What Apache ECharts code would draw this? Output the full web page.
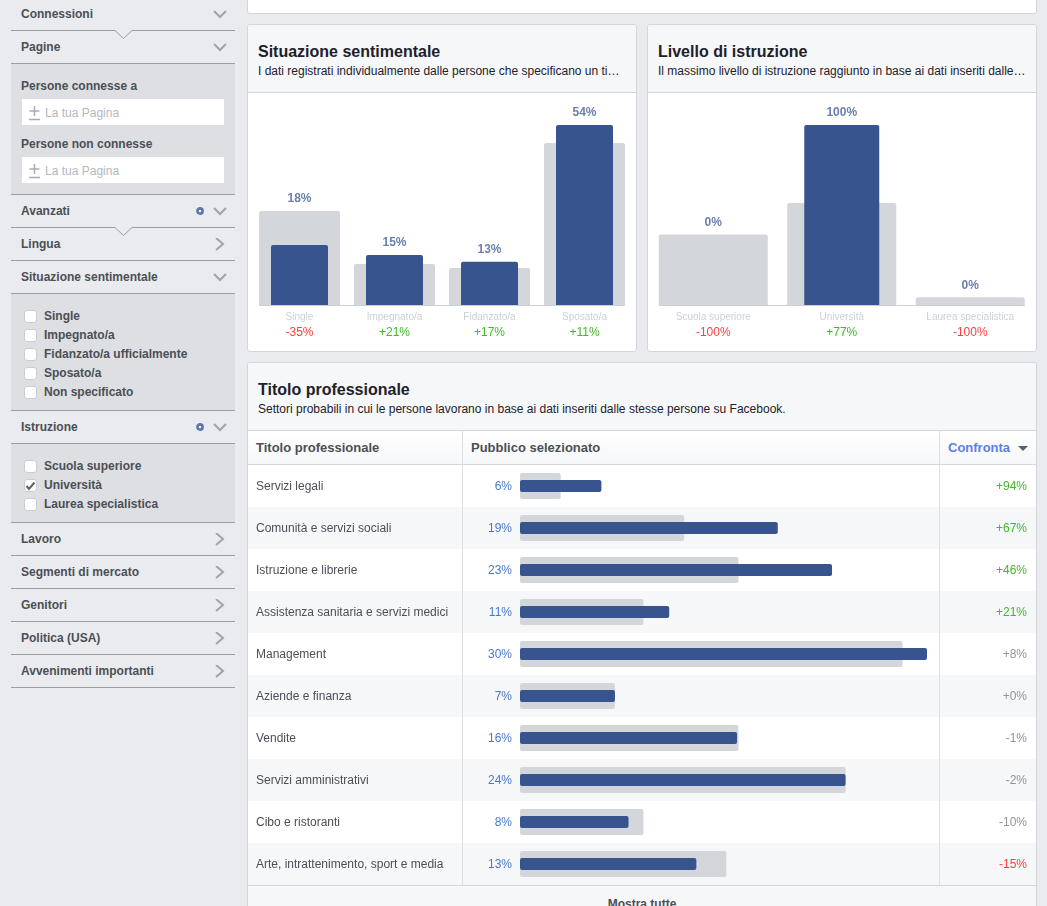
<!DOCTYPE html>
<html>
<head>
<meta charset="utf-8">
<script src="https://cdn.jsdelivr.net/npm/echarts@6/dist/echarts.min.js"></script>
<style>
  html, body { margin: 0; padding: 0; width: 1047px; height: 906px; overflow: hidden; background: #e9ebee; font-family: "Liberation Sans", Arial, sans-serif; }
  .abs, .card, .line, .panel, .sb, .row, .vline { position: absolute; }
  .card { background: #fff; border: 1px solid #d3d6db; border-radius: 3px; box-sizing: border-box; }
  .head { position: absolute; left: 0; right: 0; top: 0; background: #f6f7f9; border-bottom: 1px solid #d3d6db; border-radius: 3px 3px 0 0; box-sizing: border-box; }
  .head b { position: absolute; left: 10px; top: 18px; font-size: 16px; color: #1d2129; white-space: nowrap; }
  .head span { position: absolute; left: 10px; top: 39px; font-size: 12px; color: #1d2129; white-space: nowrap; }
  .chart { position: absolute; }
  .line { left: 11px; width: 224px; height: 1px; background: #9a9da2; }
  .panel { left: 11px; width: 224px; background: #dddfe2; }
  .sb { font-size: 12px; font-weight: bold; color: #4b4f56; white-space: nowrap; }
  .input { position: absolute; left: 22px; width: 202px; height: 26px; background: #fff; font-size: 12px; color: #b5b8bd; line-height: 28px; padding-left: 23px; box-sizing: border-box; }
  .input svg { position: absolute; left: 7px; top: 7px; }
  .check { position: absolute; left: 24px; width: 11px; height: 11px; background: #fff; border: 1px solid #c9ccd1; border-radius: 3px; }
  .icon { position: absolute; }
  .row { left: 0; right: 0; height: 42px; }
  .th { position: absolute; font-size: 13px; font-weight: bold; color: #4b4f56; white-space: nowrap; top: 9px; }
</style>
</head>
<body>
<div id="sidebar"></div>

<div class="card" style="left:247px;top:-10px;width:790px;height:24px"></div>

<div class="card" style="left:247px;top:24px;width:390px;height:328px">
  <div class="head" style="height:68px"><b>Situazione sentimentale</b><span>I dati registrati individualmente dalle persone che specificano un ti…</span></div>
</div>
<div class="chart" id="relChart" style="left:248px;top:93px;width:388px;height:258px"></div>

<div class="card" style="left:647px;top:24px;width:390px;height:328px">
  <div class="head" style="height:68px"><b>Livello di istruzione</b><span>Il massimo livello di istruzione raggiunto in base ai dati inseriti dalle…</span></div>
</div>
<div class="chart" id="eduChart" style="left:648px;top:93px;width:388px;height:258px"></div>

<div class="card" style="left:247px;top:362px;width:790px;height:560px;overflow:hidden">
  <div class="head" style="height:68px"><b>Titolo professionale</b><span>Settori probabili in cui le persone lavorano in base ai dati inseriti dalle stesse persone su Facebook.</span></div>
  <div style="position:absolute;left:0;right:0;top:68px;height:33px;background:linear-gradient(#fff,#f6f7f9);border-bottom:1px solid #d3d6db">
    <div class="th" style="left:8px">Titolo professionale</div>
    <div class="th" style="left:223px">Pubblico selezionato</div>
    <div class="th" style="left:700px;color:#5b7fe8">Confronta</div>
    <svg style="position:absolute;left:770px;top:15px" width="11" height="6"><path d="M0 0H10L5 5Z" fill="#5d6066"/></svg>
  </div>
  <div id="rows"></div>
  <div class="vline" style="left:214px;top:68px;width:1px;height:454px;background:#dddfe2"></div>
  <div class="vline" style="left:691px;top:68px;width:1px;height:454px;background:#dddfe2"></div>
  <div style="position:absolute;left:0;right:0;top:522px;height:40px;background:#f6f7f9;border-top:1px solid #d3d6db;text-align:center;font-size:12px;font-weight:bold;color:#4b4f56;line-height:36px">Mostra tutte</div>
</div>
<div class="chart" id="jobChart" style="left:248px;top:465px;width:788px;height:420px"></div>

<script>
// Situazione sentimentale
const relCats = ['Single', 'Impegnato/a', 'Fidanzato/a', 'Sposato/a'];
const relSelected = [18, 15, 13, 54];
const relBaseline = [28.2, 12.3, 11.1, 48.6];
const relDelta = ['-35%', '+21%', '+17%', '+11%'];

// Livello di istruzione
const eduCats = ['Scuola superiore', 'Università', 'Laurea specialistica'];
const eduSelected = [0, 100, 0];
const eduBaseline = [39.2, 56.7, 4.3];
const eduDelta = ['-100%', '+77%', '-100%'];

// Titolo professionale
const jobCats = ['Servizi legali', 'Comunità e servizi sociali', 'Istruzione e librerie', 'Assistenza sanitaria e servizi medici', 'Management', 'Aziende e finanza', 'Vendite', 'Servizi amministrativi', 'Cibo e ristoranti', 'Arte, intrattenimento, sport e media'];
const jobSelected = [6, 19, 23, 11, 30, 7, 16, 24, 8, 13];
const jobBaseline = [3, 12.1, 16.1, 9.1, 28.2, 7, 16.1, 24, 9.1, 15.2];
const jobDelta = ['+94%', '+67%', '+46%', '+21%', '+8%', '+0%', '-1%', '-2%', '-10%', '-15%'];

// Sidebar
const sideRows = [
  { name: 'Connessioni', y: 14, arrow: 'down' },
  { name: 'Pagine', y: 47, arrow: 'down' },
  { name: 'Avanzati', y: 211, arrow: 'down', dot: true },
  { name: 'Lingua', y: 244, arrow: 'right' },
  { name: 'Situazione sentimentale', y: 277, arrow: 'down' },
  { name: 'Istruzione', y: 427, arrow: 'down', dot: true },
  { name: 'Lavoro', y: 539, arrow: 'right' },
  { name: 'Segmenti di mercato', y: 572, arrow: 'right' },
  { name: 'Genitori', y: 605, arrow: 'right' },
  { name: 'Politica (USA)', y: 638, arrow: 'right' },
  { name: 'Avvenimenti importanti', y: 671, arrow: 'right' }
];
const sideLines = [63, 194, 260, 293, 410, 443, 522, 555, 588, 621, 654, 687];
const notchLines = [30, 227];
const relChecks = ['Single', 'Impegnato/a', 'Fidanzato/a ufficialmente', 'Sposato/a', 'Non specificato'];
const eduChecks = ['Scuola superiore', 'Università', 'Laurea specialistica'];

const BLUE = '#37548e';
const GREY = '#d3d6db';
const GREEN = '#42b72a';
const RED = '#fa3e3e';
const MUTED = '#90949c';

function deltaColor(d) {
  const n = parseInt(d, 10);
  if (n <= -15) return RED;
  if (n >= 11) return GREEN;
  return MUTED;
}

function buildSidebar() {
  let html = '';
  html += '<div class="panel" style="top:64px;height:130px"></div>';
  html += '<div class="panel" style="top:294px;height:116px"></div>';
  html += '<div class="panel" style="top:444px;height:78px"></div>';
  sideLines.forEach(y => { html += `<div class="line" style="top:${y}px"></div>`; });
  notchLines.forEach(y => {
    html += `<svg class="icon" style="left:11px;top:${y}px" width="224" height="10"><path d="M0 .5H104L112.5 8.5L121 .5H224" fill="none" stroke="#9a9da2"/></svg>`;
  });
  sideRows.forEach(r => {
    html += `<div class="sb" style="left:21px;top:${r.y - 7}px">${r.name}</div>`;
    const path = r.arrow === 'down' ? 'M1 1L7 7L13 1' : 'M3 0L10 6L3 12';
    const top = r.arrow === 'down' ? r.y - 4 : r.y - 6;
    const h = r.arrow === 'down' ? 9 : 13;
    html += `<svg class="icon" style="left:213px;top:${top}px" width="14" height="${h}"><path d="${path}" fill="none" stroke="#a0a3a9" stroke-width="2"/></svg>`;
    if (r.dot) {
      html += `<svg class="icon" style="left:195px;top:${r.y - 5}px" width="10" height="10"><circle cx="5" cy="5" r="2.6" fill="#fff" stroke="#5b74a8" stroke-width="2.6"/></svg>`;
    }
  });
  html += '<div class="sb" style="left:21px;top:79px">Persone connesse a</div>';
  html += '<div class="sb" style="left:21px;top:137px">Persone non connesse</div>';
  [99, 157].forEach(y => {
    html += `<div class="input" style="top:${y}px"><svg width="12" height="15"><path d="M5.500 0V10M.5 5H10.500M0 13.500H11" stroke="#a9acb1" stroke-width="1.5" fill="none"/></svg>La tua Pagina</div>`;
  });
  relChecks.forEach((t, i) => {
    const y = 316 + i * 19;
    html += `<div class="check" style="top:${y - 6}px"></div><div class="sb" style="left:44px;top:${y - 7}px">${t}</div>`;
  });
  eduChecks.forEach((t, i) => {
    const y = 466 + i * 19;
    html += `<div class="check" style="top:${y - 6}px"></div><div class="sb" style="left:44px;top:${y - 7}px">${t}</div>`;
    if (t === 'Università') {
      html += `<svg class="icon" style="left:25px;top:${y - 4}px" width="11" height="10"><path d="M1.500 5L4 8L9.500 1.500" fill="none" stroke="#5d6066" stroke-width="2"/></svg>`;
    }
  });
  document.getElementById('sidebar').innerHTML = html;
}

function columnOption(cats, selected, baseline, delta, gridLeft, gridW, greyW, blueW, yMax) {
  const rich = { cat: { color: '#ccd0d5', fontSize: 10, lineHeight: 15, align: 'center' } };
  const colors = { red: RED, green: GREEN };
  Object.keys(colors).forEach(k => { rich[k] = { color: colors[k], fontSize: 12, lineHeight: 15, align: 'center' }; });
  const topLabel = { show: true, position: 'top', distance: 6, color: '#6b7fae', fontSize: 12, fontWeight: 'bold', fontFamily: 'Liberation Sans' };
  return {
    animation: false,
    grid: { left: gridLeft, top: 32, width: gridW, height: 180, containLabel: false },
    // the baseline stops at the outer bars, not at the ends of the axis
    graphic: [{ type: 'line', silent: true, z: 5, shape: { x1: 11, y1: 212.5, x2: 377, y2: 212.5 }, style: { stroke: '#ccd0d5', lineWidth: 1 } }],
    xAxis: [
      {
        type: 'category', data: cats,
        axisTick: { show: false },
        axisLine: { show: false },
        axisLabel: {
          interval: 0, margin: 5, fontFamily: 'Liberation Sans',
          formatter: v => {
            const d = delta[cats.indexOf(v)];
            return `{cat|${v}}\n{${d[0] === '-' ? 'red' : 'green'}|${d}}`;
          },
          rich
        }
      },
      { type: 'category', data: cats, show: false }
    ],
    yAxis: { type: 'value', min: 0, max: yMax, show: false },
    series: [
      {
        type: 'bar', xAxisIndex: 0, barWidth: greyW, z: 2, silent: true,
        itemStyle: { color: GREY, borderRadius: [2, 2, 0, 0] },
        data: baseline.map((v, i) => ({
          value: v,
          label: Object.assign({}, topLabel, { show: v >= selected[i], formatter: selected[i] + '%' })
        }))
      },
      {
        type: 'bar', xAxisIndex: 1, barWidth: blueW, z: 3, silent: true,
        itemStyle: { color: BLUE, borderRadius: [2, 2, 0, 0] },
        data: selected.map((v, i) => ({
          value: v,
          label: Object.assign({}, topLabel, { show: v > baseline[i], formatter: v + '%' })
        }))
      }
    ]
  };
}

function jobOption() {
  const baseAxis = { type: 'category', inverse: true, data: jobCats, axisTick: { show: false }, axisLine: { show: false } };
  const text = { interval: 0, fontSize: 12, fontFamily: 'Liberation Sans', verticalAlign: 'top', padding: [-5, 0, 0, 0] };
  return {
    animation: false,
    grid: { left: 272, top: 0, width: 407, height: 420, containLabel: false },
    xAxis: { type: 'value', min: 0, max: 30, show: false },
    yAxis: [
      Object.assign({}, baseAxis, {
        position: 'left',
        axisLabel: Object.assign({}, text, { align: 'left', margin: 264, color: '#4b4f56' })
      }),
      Object.assign({}, baseAxis, {
        position: 'left',
        axisLabel: Object.assign({}, text, {
          align: 'right', margin: 8, color: '#4a78c8',
          formatter: v => jobSelected[jobCats.indexOf(v)] + '%'
        })
      }),
      Object.assign({}, baseAxis, {
        position: 'right',
        axisLabel: Object.assign({}, text, {
          align: 'right', margin: 100,
          color: (v) => deltaColor(jobDelta[jobCats.indexOf(v)]),
          formatter: v => jobDelta[jobCats.indexOf(v)]
        })
      })
    ],
    series: [
      { type: 'bar', yAxisIndex: 0, barWidth: 26, z: 2, silent: true, itemStyle: { color: GREY, borderRadius: 2 }, data: jobBaseline },
      { type: 'bar', yAxisIndex: 1, barWidth: 12, z: 3, silent: true, itemStyle: { color: BLUE, borderRadius: 2 }, data: jobSelected },
      { type: 'bar', yAxisIndex: 2, barWidth: 0, silent: true, data: jobSelected.map(() => 0) }
    ]
  };
}

buildSidebar();

let rowsHtml = '';
jobCats.forEach((c, i) => {
  rowsHtml += `<div class="row" style="top:${102 + i * 42}px;background:${i % 2 ? '#f6f7f9' : '#fff'}"></div>`;
});
document.getElementById('rows').innerHTML = rowsHtml;

const relChart = echarts.init(document.getElementById('relChart'));
relChart.setOption(columnOption(relCats, relSelected, relBaseline, relDelta, 4, 380, 81, 57, 54));

const eduChart = echarts.init(document.getElementById('eduChart'));
eduChart.setOption(columnOption(eduCats, eduSelected, eduBaseline, eduDelta, 1, 385.5, 109, 75, 100));

const jobChart = echarts.init(document.getElementById('jobChart'));
jobChart.setOption(jobOption());
</script>
</body>
</html>
